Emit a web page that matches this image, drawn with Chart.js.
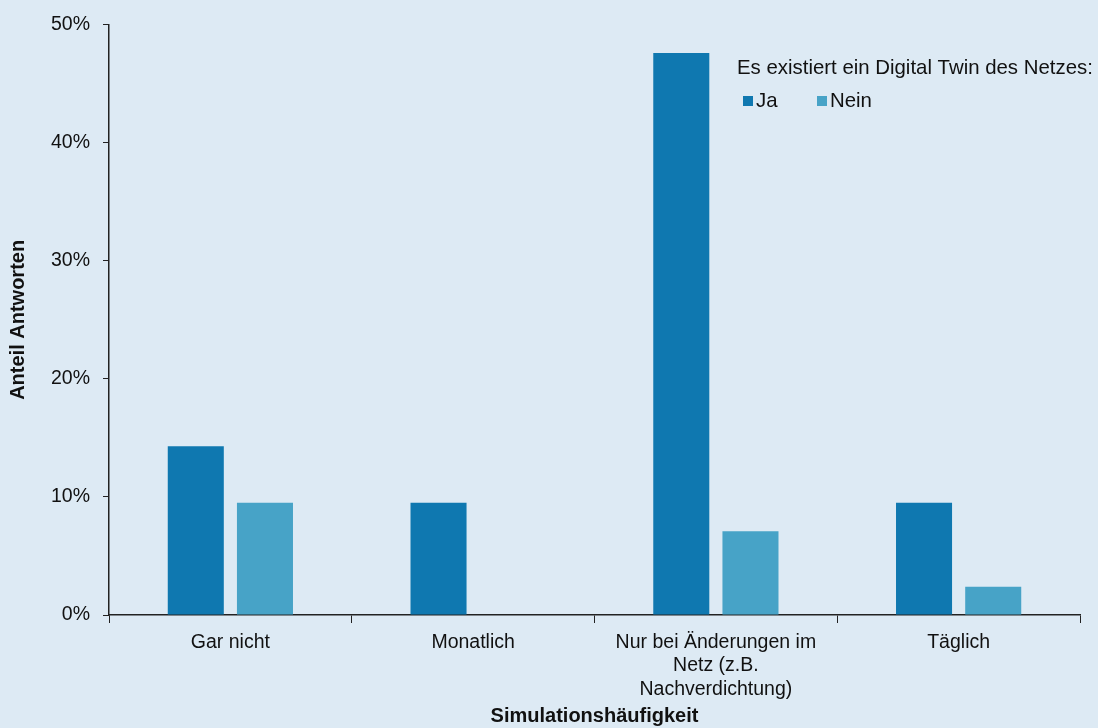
<!DOCTYPE html>
<html>
<head>
<meta charset="utf-8">
<script src="https://cdn.jsdelivr.net/npm/chart.js@4/dist/chart.umd.min.js"></script>
<style>
  html, body { margin: 0; padding: 0; background: #ddeaf4; }
  #wrap { width: 1098px; height: 728px; position: relative; }
</style>
</head>
<body>
<div id="wrap"><canvas id="chart"></canvas></div>
<script>
// Daten
var categories = ['Gar nicht', 'Monatlich', ['Nur bei Änderungen im', 'Netz (z.B.', 'Nachverdichtung)'], 'Täglich'];
var jaValues = [0.143, 0.095, 0.476, 0.095];
var neinValues = [0.095, 0, 0.071, 0.024];
var yTicks = [0, 0.1, 0.2, 0.3, 0.4, 0.5];
var legendTitle = 'Es existiert ein Digital Twin des Netzes:';

var fontFam = '"Liberation Sans", Arial, sans-serif';

// eigene Legende oben rechts im Plotbereich
var innerLegend = {
    id: 'innerLegend',
    afterDraw: function (chart) {
        var c = chart.ctx;
        var x0 = 737;
        c.save();
        c.fillStyle = '#111';
        c.font = '20.4px ' + fontFam;
        c.textBaseline = 'middle';
        c.fillText(legendTitle, x0, 68);
        var items = chart.data.datasets;
        var xs = [743, 817];
        items.forEach(function (ds, i) {
            c.fillStyle = ds.backgroundColor;
            c.fillRect(xs[i], 96, 10, 10);
            c.fillStyle = '#111';
            c.fillText(ds.label, xs[i] + 13, 101);
        });
        c.restore();
    }
};

var chart = new Chart(document.getElementById('chart'), {
    type: 'bar',
    data: {
        labels: categories,
        datasets: [
            { label: 'Ja', data: jaValues, backgroundColor: '#0f78b0' },
            { label: 'Nein', data: neinValues, backgroundColor: '#47a3c7' }
        ]
    },
    options: {
        responsive: true,
        maintainAspectRatio: false,
        animation: false,
        categoryPercentage: 0.57,
        barPercentage: 0.81,
        layout: { padding: { top: 24, right: 18, left: 0, bottom: 0 } },
        plugins: {
            legend: { display: false },
            tooltip: { enabled: false }
        },
        scales: {
            x: {
                afterFit: function (axis) { axis.height = 113; },
                grid: { display: true, drawOnChartArea: false, color: '#222', tickLength: 8, offset: true },
                border: { color: '#222', width: 1.5 },
                ticks: { color: '#111', font: { size: 19.5, family: fontFam, lineHeight: 1.2 }, maxRotation: 0, autoSkip: false, padding: 8 },
                title: { display: true, text: 'Simulationshäufigkeit', color: '#111', font: { size: 20, weight: 'bold', family: fontFam }, padding: { top: 2, bottom: 0 } }
            },
            y: {
                min: 0,
                max: 0.5,
                afterFit: function (axis) { axis.width = 109; },
                afterBuildTicks: function (axis) {
                    axis.ticks = yTicks.map(function (v) { return { value: v }; });
                },
                grid: { display: true, drawOnChartArea: false, color: '#222', tickLength: 6 },
                border: { color: '#222', width: 1.5 },
                ticks: {
                    color: '#111', font: { size: 19.5, family: fontFam }, padding: 13,
                    callback: function (v) { return Math.round(v * 100) + '%'; }
                },
                title: { display: true, text: 'Anteil Antworten', color: '#111', font: { size: 20, weight: 'bold', family: fontFam }, padding: { top: 6, bottom: 0 } }
            }
        }
    },
    plugins: [innerLegend]
});
</script>
</body>
</html>
